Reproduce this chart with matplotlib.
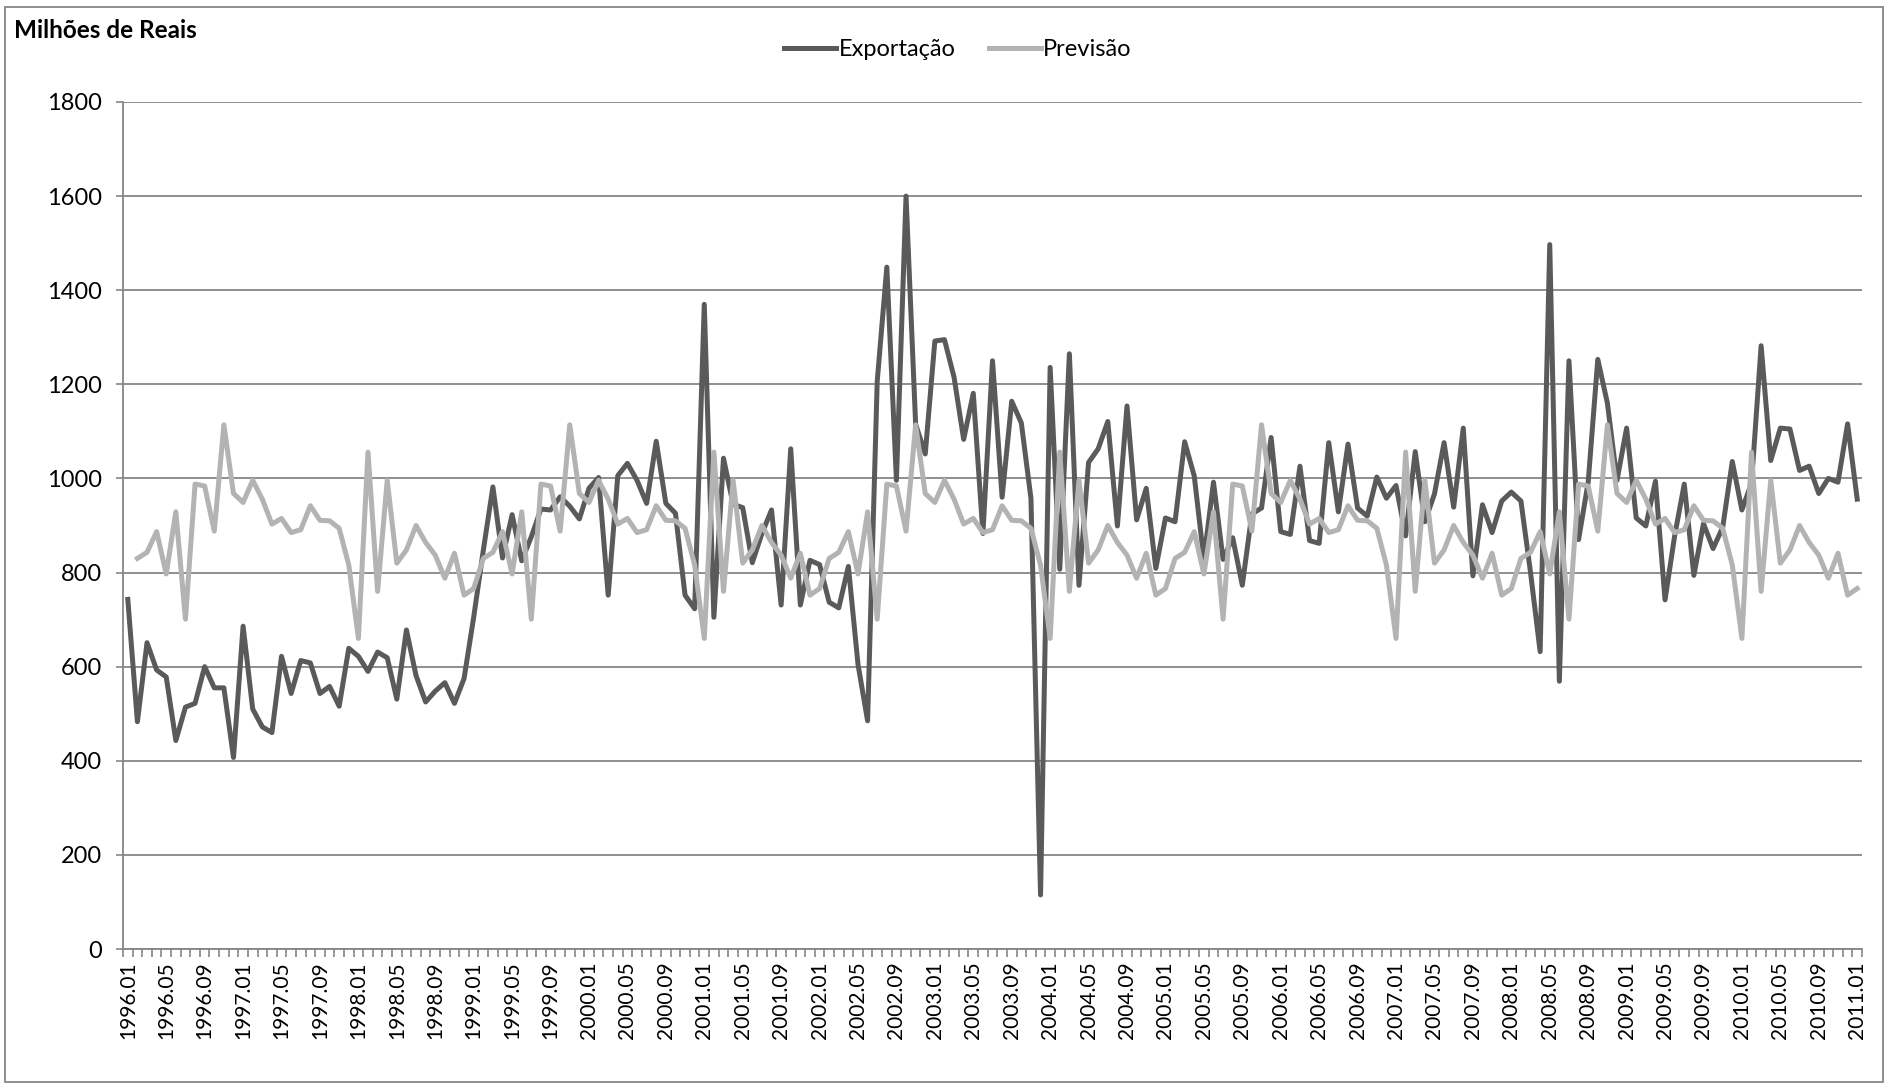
import matplotlib
matplotlib.use('Agg')
import matplotlib.pyplot as plt
import numpy as np
from matplotlib.patches import Rectangle

plt.rcParams['font.family'] = ['Lato', 'DejaVu Sans']

# categorias mensais 1996.01 .. 2011.01
meses = [f'{a}.{m:02d}' for a in range(1996, 2012) for m in range(1, 13)][:181]

# Exportação (milhões de reais), uma linha por ano
exportacao = [
    743, 483, 651, 593, 578, 443, 514, 522, 600, 555, 555, 407,
    686, 510, 472, 460, 622, 543, 613, 608, 543, 558, 516, 639,
    622, 590, 631, 619, 531, 678, 581, 525, 548, 566, 522, 575,
    705, 847, 982, 831, 923, 825, 876, 935, 933, 961, 941, 914,
    979, 1002, 752, 1006, 1032, 996, 947, 1079, 947, 926, 752, 723,
    1370, 705, 1043, 945, 938, 821, 883, 933, 731, 1063, 731, 826,
    817, 737, 725, 813, 605, 485, 1206, 1449, 996, 1600, 1115, 1052,
    1292, 1295, 1215, 1083, 1181, 883, 1250, 960, 1164, 1118, 958, 115,
    1236, 807, 1265, 773, 1034, 1063, 1121, 899, 1154, 912, 979, 809,
    916, 908, 1078, 1005, 828, 992, 828, 874, 773, 925, 937, 1087,
    887, 881, 1026, 868, 862, 1076, 929, 1073, 937, 920, 1003, 958,
    985, 878, 1057, 908, 967, 1076, 939, 1107, 793, 944, 885, 952,
    971, 952, 800, 632, 1497, 569, 1250, 870, 992, 1253, 1160, 996,
    1107, 916, 899, 994, 742, 878, 988, 794, 904, 851, 896, 1036,
    933, 990, 1282, 1038, 1107, 1105, 1017, 1026, 968, 1000, 992, 1116,
    956,
]

# Previsão (sem valor em 1996.01)
previsao = [
    None, 830, 843, 887, 797, 929, 701, 988, 984, 888, 1114, 968,
    949, 996, 956, 903, 915, 885, 891, 942, 911, 910, 894, 816,
    660, 1056, 760, 996, 820, 848, 900, 864, 837, 788, 841, 752,
    766, 830, 843, 887, 797, 929, 701, 988, 984, 888, 1114, 968,
    949, 996, 956, 903, 915, 885, 891, 942, 911, 910, 894, 816,
    660, 1056, 760, 996, 820, 848, 900, 864, 837, 788, 841, 752,
    766, 830, 843, 887, 797, 929, 701, 988, 984, 888, 1114, 968,
    949, 996, 956, 903, 915, 885, 891, 942, 911, 910, 894, 816,
    660, 1056, 760, 996, 820, 848, 900, 864, 837, 788, 841, 752,
    766, 830, 843, 887, 797, 929, 701, 988, 984, 888, 1114, 968,
    949, 996, 956, 903, 915, 885, 891, 942, 911, 910, 894, 816,
    660, 1056, 760, 996, 820, 848, 900, 864, 837, 788, 841, 752,
    766, 830, 843, 887, 797, 929, 701, 988, 984, 888, 1114, 968,
    949, 996, 956, 903, 915, 885, 891, 942, 911, 910, 894, 816,
    660, 1056, 760, 996, 820, 848, 900, 864, 837, 788, 841, 752,
    766,
]

y_ticks = list(range(0, 1801, 200))

W, H = 1888, 1087
fig = plt.figure(figsize=(W / 100, H / 100), dpi=100)
ax = fig.add_axes([123 / W, 1 - 949 / H, (1862 - 123) / W, (949 - 102) / H])

x = np.arange(len(meses))
prev = np.array([np.nan if v is None else v for v in previsao], dtype=float)
ax.plot(x, exportacao, color='#5a5a5a', lw=3.6, label='Exportação', solid_joinstyle='round')
ax.plot(x, prev, color='#b3b3b3', lw=3.6, label='Previsão', solid_joinstyle='round')

ax.set_xlim(-0.5, len(meses) - 0.5)
ax.set_ylim(0, 1800)
ax.set_yticks(y_ticks)
ax.tick_params(axis='y', labelsize=17, length=5, width=1.2, color='#868686', pad=10)
ax.yaxis.grid(True, color='#868686', lw=1.3)
ax.set_axisbelow(True)

# marcas nas fronteiras das categorias, rótulos a cada 4 meses
ax.set_xticks(np.arange(-0.5, len(meses), 1))
ax.set_xticklabels([])
ax.tick_params(axis='x', which='major', length=6, width=1.2, color='#868686')
ax.set_xticks(x[::4], minor=True)
ax.set_xticklabels(meses[::4], minor=True, rotation=90)
ax.tick_params(axis='x', which='minor', length=0, labelsize=15, pad=9)

for s in ['top', 'right']:
    ax.spines[s].set_visible(False)
for s in ['left', 'bottom']:
    ax.spines[s].set_color('#868686')
    ax.spines[s].set_linewidth(1.3)

fig.text(14 / W, 1 - 30 / H, 'Milhões de Reais', fontsize=17.5, fontweight='bold', va='center')
fig.legend(loc='center', bbox_to_anchor=(958 / W, 1 - 50 / H), ncol=2, frameon=False,
           fontsize=17, handlelength=2.2, handletextpad=0.1, columnspacing=1.4)

fig.patches.append(Rectangle((5 / W, 5 / H), 1 - 10 / W, 1 - 12 / H, transform=fig.transFigure,
                             fill=False, edgecolor='#868686', lw=1.3))

fig.savefig('out.png', dpi=100)
